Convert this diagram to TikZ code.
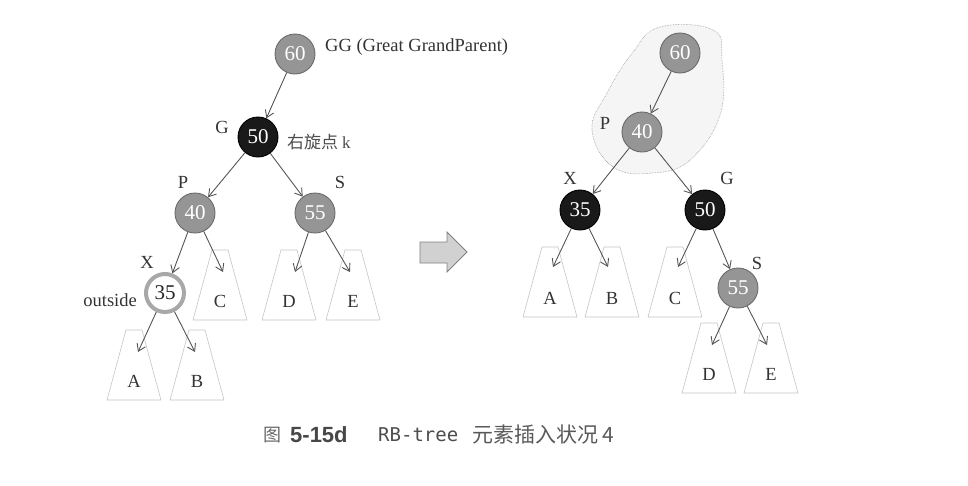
\documentclass[tikz,border=0pt]{standalone}
\usepackage{fontspec}
\setmainfont{Liberation Serif}
\newfontfamily\cjk{Noto Sans CJK SC}
\newfontfamily\capsans{Liberation Sans}
\newfontfamily\capmono{DejaVu Sans Mono}
\usetikzlibrary{arrows.meta}
\definecolor{nodegray}{HTML}{959595}
\definecolor{bordergray}{HTML}{6A6A6A}
\definecolor{ringgray}{HTML}{A8A8A8}
\definecolor{edgegray}{HTML}{555555}
\definecolor{treegray}{HTML}{C4C4C4}
\tikzset{
  rb/.style={circle, minimum size=40pt, inner sep=0pt, font=\fontsize{21}{21}\selectfont},
  rednode/.style={rb, fill=nodegray, draw=bordergray, line width=0.9pt, text=white},
  blacknode/.style={rb, fill=black!90, draw=black, line width=0.9pt, text=white},
  newnode/.style={rb, minimum size=38pt, draw=ringgray, line width=4pt, fill=white, text=black!85},
  lbl/.style={inner sep=0pt, font=\fontsize{18.5}{18.5}\selectfont, text=black!80},
  cjklbl/.style={inner sep=0pt, font=\cjk\fontsize{17}{17}\selectfont, text=black!70},
  edge/.style={draw=edgegray, line width=0.9pt, -{Straight Barb[length=7pt,width=9pt]}},
  subt/.style={draw=treegray, line width=0.6pt},
  bigarrow/.style={fill=black!18, draw=black!50, line width=0.8pt},
  blob/.style={fill=black!4, draw=black!40, densely dotted, line width=0.6pt}
}
\newcommand\subtr[4]{%
  \draw[subt] (#2-8,#3) -- (#2+8,#3) -- (#2+27,#3+70) -- (#2-27,#3+70) -- cycle;
  \node[lbl] (#1) at (#2,#3+51) {#4};
}
\begin{document}
\begin{tikzpicture}[x=1pt,y=-1pt]
\useasboundingbox (0,0) rectangle (968,485);

% ---------- left tree ----------
\node[rednode] (GG) at (295,54) {60};
\node[blacknode] (G) at (258,137) {50};
\node[rednode] (P) at (195,213) {40};
\node[rednode] (S) at (315,213) {55};
\node[newnode] (X) at (165,293) {35};

\node[lbl, anchor=west] (GGlbl) at (325,47) {GG (Great GrandParent)};
\node[lbl] (Glbl) at (222,127) {G};
\node[cjklbl, anchor=west] (rot) at (287,142) {右旋点 \fontspec{Liberation Serif}k};
\node[lbl] (Plbl) at (183,182) {P};
\node[lbl] (Slbl) at (340,182) {S};
\node[lbl] (Xlbl) at (147,262) {X};
\node[lbl, anchor=east] (outs) at (137,300) {outside};

\subtr{LA}{134}{330}{A}
\subtr{LB}{197}{330}{B}
\subtr{LC}{220}{250}{C}
\subtr{LD}{289}{250}{D}
\subtr{LE}{353}{250}{E}

\coordinate (tLA) at (138,352);
\coordinate (tLB) at (195,352);
\coordinate (tLC) at (223,272);
\coordinate (tLD) at (295,272);
\coordinate (tLE) at (350,272);

\draw[edge] (GG) -- (G);
\draw[edge] (G) -- (P);
\draw[edge] (G) -- (S);
\draw[edge] (P) -- (X);
\draw[edge] (P) -- (tLC);
\draw[edge] (S) -- (tLD);
\draw[edge] (S) -- (tLE);
\draw[edge] (X) -- (tLA);
\draw[edge] (X) -- (tLB);

% ---------- big arrow ----------
\draw[bigarrow] (420,242) -- (447,242) -- (447,232) -- (467,252) -- (447,272) -- (447,263) -- (420,263) -- cycle;

% ---------- right tree ----------
\draw[blob] plot[smooth cycle, tension=0.7] coordinates {
  (660,27) (713,30) (722,60) (720,115) (690,160) (653,173) (613,167)
  (592,130) (607,93) (633,52)};

\node[rednode] (R60) at (680,53) {60};
\node[rednode] (R40) at (642,132) {40};
\node[blacknode] (R35) at (580,210) {35};
\node[blacknode] (R50) at (705,210) {50};
\node[rednode] (R55) at (738,288) {55};

\node[lbl] (RPlbl) at (605,123) {P};
\node[lbl] (RXlbl) at (570,178) {X};
\node[lbl] (RGlbl) at (727,178) {G};
\node[lbl] (RSlbl) at (757,263) {S};

\subtr{RA}{550}{247}{A}
\subtr{RB}{612}{247}{B}
\subtr{RC}{675}{247}{C}
\subtr{RD}{709}{323}{D}
\subtr{RE}{771}{323}{E}

\coordinate (tRA) at (553,267);
\coordinate (tRB) at (608,267);
\coordinate (tRC) at (678,267);
\coordinate (tRD) at (712,345);
\coordinate (tRE) at (767,345);

\draw[edge] (R60) -- (R40);
\draw[edge] (R40) -- (R35);
\draw[edge] (R40) -- (R50);
\draw[edge] (R35) -- (tRA);
\draw[edge] (R35) -- (tRB);
\draw[edge] (R50) -- (tRC);
\draw[edge] (R50) -- (R55);
\draw[edge] (R55) -- (tRD);
\draw[edge] (R55) -- (tRE);

% ---------- caption ----------
\node[inner sep=0pt, font=\cjk\fontsize{18}{18}\selectfont, text=black!60] (capfig) at (272,435) {图};
\node[inner sep=0pt, anchor=west, font=\capsans\bfseries\fontsize{22}{22}\selectfont, text=black!72] (capnum) at (290,435) {5-15d};
\node[inner sep=0pt, anchor=west, font=\capmono\fontsize{19}{19}\selectfont, text=black!70] (capmono) at (378,435) {RB-tree};
\node[inner sep=0pt, anchor=west, font=\cjk\fontsize{21}{21}\selectfont, text=black!65] (captext) at (472,435) {元素插入状况 4};
\end{tikzpicture}
\end{document}
